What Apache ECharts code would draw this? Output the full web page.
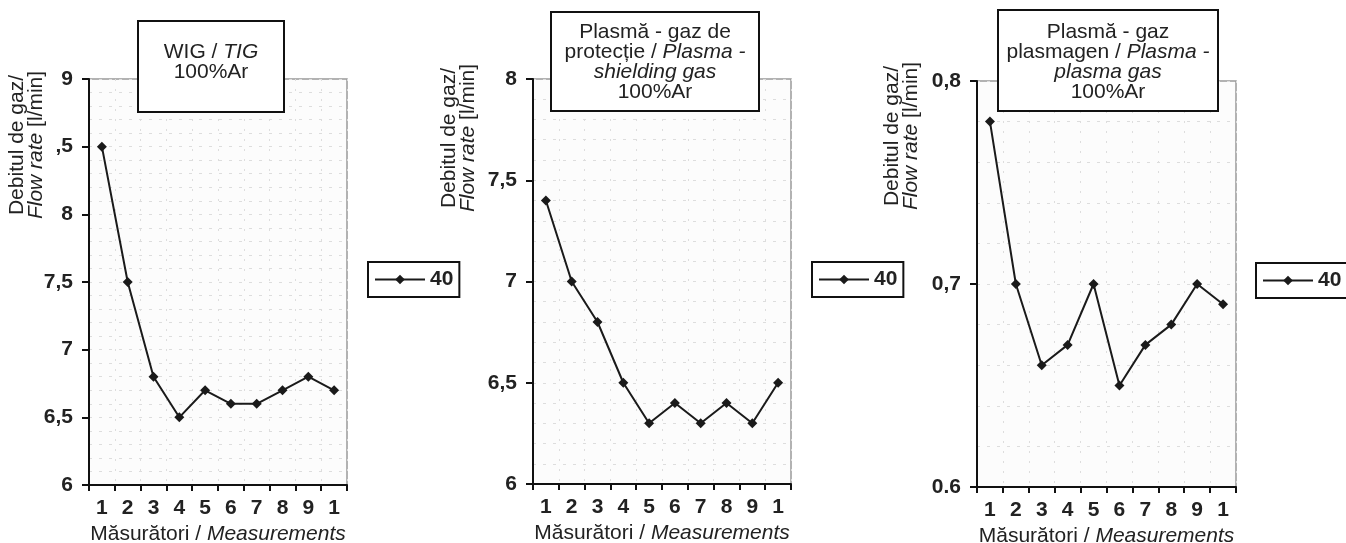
<!DOCTYPE html>
<html>
<head>
<meta charset="utf-8">
<script src="https://cdn.jsdelivr.net/npm/echarts@6/dist/echarts.min.js"></script>
<style>
html,body{margin:0;padding:0;background:#fff;}
#c{width:1346px;height:543px;}
</style>
</head>
<body>
<div id="c"></div>
<script>
// ---- data ----
var xLabels = ['1','2','3','4','5','6','7','8','9','1'];
var seriesName = '40';
var wigValues = [8.5, 7.5, 6.8, 6.5, 6.7, 6.6, 6.6, 6.7, 6.8, 6.7];
var shieldValues = [7.4, 7.0, 6.8, 6.5, 6.3, 6.4, 6.3, 6.4, 6.3, 6.5];
var plasmaValues = [0.78, 0.70, 0.66, 0.67, 0.70, 0.65, 0.67, 0.68, 0.70, 0.69];
var wigTicks = {6:'6', 6.5:'6,5', 7:'7', 7.5:'7,5', 8:'8', 8.5:',5', 9:'9'};
var shieldTicks = {6:'6', 6.5:'6,5', 7:'7', 7.5:'7,5', 8:'8'};
var plasmaTicks = {0.6:'0.6', 0.7:'0,7', 0.8:'0,8'};
var titleLines = [
  ['WIG / {i|TIG}', '100%Ar'],
  ['Plasmă - gaz de', 'protecție / {i|Plasma -}', '{i|shielding gas}', '100%Ar'],
  ['Plasmă - gaz', 'plasmagen / {i|Plasma -}', '{i|plasma gas}', '100%Ar']
];
var yNameLines = ['Debitul de gaz/', '{i|Flow rate} [l/min]'];
var xName = 'Măsurători / {i|Measurements}';

// ---- layout ----
var FONT = '"Liberation Sans", Arial, sans-serif';
var grids = [
  {left: 89, top: 79, width: 258, height: 406},
  {left: 533, top: 79, width: 258, height: 405},
  {left: 977, top: 81, width: 259, height: 406}
];
var yRanges = [
  {min: 6, max: 9, interval: 0.5, ticks: wigTicks},
  {min: 6, max: 8, interval: 0.5, ticks: shieldTicks},
  {min: 0.6, max: 0.8, interval: 0.1, ticks: plasmaTicks}
];
var valuesList = [wigValues, shieldValues, plasmaValues];
var titleBoxes = [
  {x: 138, y: 21, w: 146, h: 91, ty: 42},
  {x: 551, y: 12, w: 208, h: 99, ty: 22},
  {x: 998, y: 10, w: 220, h: 101, ty: 22}
];
var yNamePos = [
  {x: 27, y: 145},
  {x: 459, y: 138},
  {x: 902, y: 136}
];
var legendPos = [
  {left: 368, top: 262, pr: 6},
  {left: 812, top: 262, pr: 6},
  {left: 1256, top: 263, pr: 30}
];

var richI = {i: {fontStyle: 'italic', fontSize: 21, fontFamily: FONT, color: '#222'}};

var option = {
  animation: false,
  backgroundColor: '#fff',
  grid: grids.map(function (g) {
    return Object.assign({show: true, outerBoundsMode: 'none', containLabel: false,
      backgroundColor: '#fcfcfc', borderColor: '#999', borderWidth: 1.5}, g);
  }),
  xAxis: grids.map(function (g, k) {
    return {
      type: 'category', gridIndex: k, data: xLabels, boundaryGap: true,
      name: xName, nameLocation: 'middle', nameGap: 36,
      nameTextStyle: {fontSize: 21, fontFamily: FONT, color: '#222', rich: richI},
      axisLine: {lineStyle: {color: '#111', width: 2}},
      axisTick: {show: true, alignWithLabel: false, length: 6, lineStyle: {color: '#111', width: 2}},
      axisLabel: {margin: 13, fontSize: 21, fontWeight: 'bold', fontFamily: FONT, color: '#222'},
      splitLine: {show: true, lineStyle: {color: '#ddd', type: [2, 8], width: 1}}
    };
  }),
  yAxis: yRanges.map(function (r, k) {
    return {
      type: 'value', gridIndex: k, min: r.min, max: r.max, interval: r.interval,
      axisLine: {show: true, lineStyle: {color: '#111', width: 2}},
      axisTick: {show: true, length: 7, lineStyle: {color: '#111', width: 2}},
      axisLabel: {
        margin: 16, fontSize: 21, fontWeight: 'bold', fontFamily: FONT, color: '#222',
        formatter: function (v) {
          var key = Math.round(v * 100) / 100;
          return r.ticks[key] !== undefined ? r.ticks[key] : '';
        }
      },
      splitLine: {show: true, lineStyle: {color: '#ddd', type: [3, 7], width: 1}},
      minorTick: {show: false, splitNumber: 5},
      minorSplitLine: {show: true, lineStyle: {color: '#ddd', type: [3, 7], width: 1}}
    };
  }),
  legend: legendPos.map(function (p) {
    return {
      left: p.left, top: p.top, data: [seriesName],
      orient: 'horizontal',
      borderColor: '#111', borderWidth: 2, borderRadius: 0,
      padding: [7, p.pr, 7, 6],
      itemWidth: 50, itemHeight: 12,
      textStyle: {fontSize: 21, fontWeight: 'bold', fontFamily: FONT, color: '#222'},
      selectedMode: false
    };
  }),
  series: valuesList.map(function (vals, k) {
    return {
      name: seriesName, type: 'line', xAxisIndex: k, yAxisIndex: k,
      data: vals,
      symbol: 'diamond', symbolSize: 10,
      lineStyle: {color: '#1a1a1a', width: 2},
      itemStyle: {color: '#1a1a1a'},
      z: 5
    };
  }),
  graphic: []
};

titleBoxes.forEach(function (b, k) {
  option.graphic.push({
    type: 'rect', z: 100,
    shape: {x: b.x, y: b.y, width: b.w, height: b.h},
    style: {fill: '#fff', stroke: '#111', lineWidth: 2}
  });
  option.graphic.push({
    type: 'text', z: 101,
    x: b.x + b.w / 2, y: b.ty,
    style: {
      text: titleLines[k].join('\n'),
      align: 'center', verticalAlign: 'top',
      fontSize: 21, lineHeight: 20, fontFamily: FONT, fill: '#222',
      rich: {i: {fontStyle: 'italic', fontSize: 21, lineHeight: 20, fontFamily: FONT, fill: '#222'}}
    }
  });
});

yNamePos.forEach(function (p) {
  option.graphic.push({
    type: 'text', z: 50,
    x: p.x, y: p.y, rotation: Math.PI / 2,
    style: {
      text: yNameLines.join('\n'),
      align: 'center', verticalAlign: 'middle',
      fontSize: 21, lineHeight: 19, fontFamily: FONT, fill: '#222',
      rich: {i: {fontStyle: 'italic', fontSize: 21, lineHeight: 19, fontFamily: FONT, fill: '#222'}}
    }
  });
});

var chart = echarts.init(document.getElementById('c'), null, {renderer: 'canvas'});
chart.setOption(option);
</script>
</body>
</html>
